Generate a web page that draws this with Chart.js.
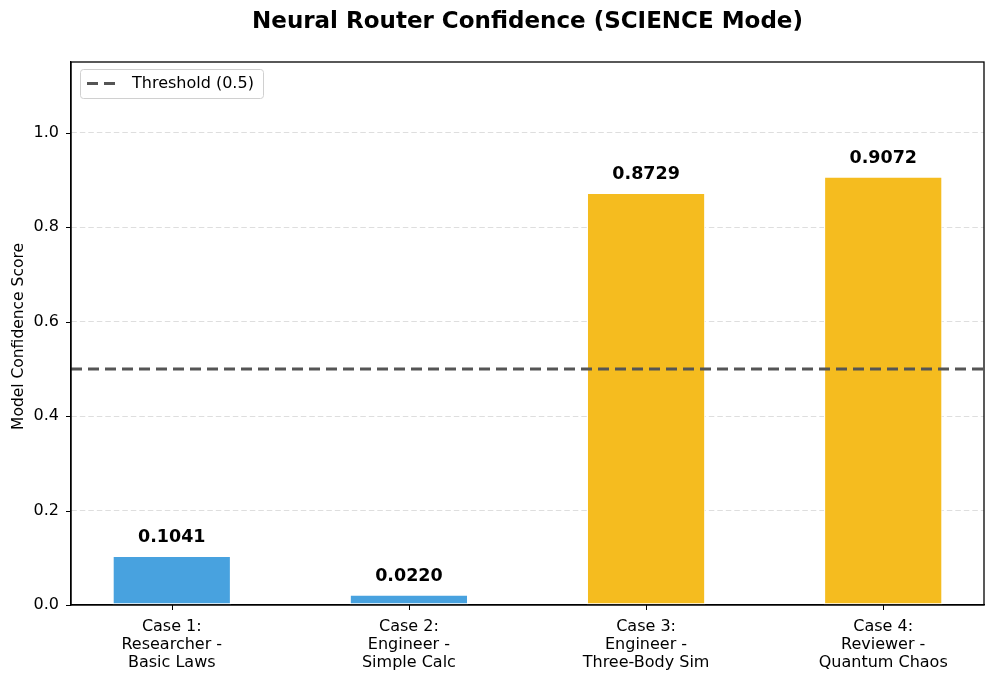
<!DOCTYPE html>
<html><head><meta charset="utf-8">
<script src="https://cdn.jsdelivr.net/npm/chart.js@4"></script>
<style>html,body{margin:0;padding:0;background:#fff}#wrap{width:996px;height:682px}</style>
</head><body><div id="wrap"><canvas id="c" width="996" height="682"></canvas></div>
<script>
const categories = [
  ["Case 1:", "Researcher -", "Basic Laws"],
  ["Case 2:", "Engineer -", "Simple Calc"],
  ["Case 3:", "Engineer -", "Three-Body Sim"],
  ["Case 4:", "Reviewer -", "Quantum Chaos"]
];
const confidence = [0.1041, 0.0220, 0.8729, 0.9072];
const threshold = 0.5;
const yTicks = [0.0, 0.2, 0.4, 0.6, 0.8, 1.0];
const titleText = "Neural Router Confidence (SCIENCE Mode)";
const yTitle = "Model Confidence Score";
const thresholdLabel = "Threshold (0.5)";

const FONT = "'DejaVu Sans', sans-serif";
const barColors = confidence.map(v => v >= threshold ? "#F5BC1F" : "#48A2DF");
const xMin = -0.425, xMax = categories.length - 1 + 0.425;

const overlay = {
  id: "overlay",
  afterDatasetsDraw(chart) {
    const ctx = chart.ctx, a = chart.chartArea;
    const xs = chart.scales.x, ys = chart.scales.y;
    ctx.save();
    // value labels
    ctx.font = "bold 17.5px " + FONT;
    ctx.fillStyle = "#000";
    ctx.textAlign = "center";
    ctx.textBaseline = "alphabetic";
    confidence.forEach((v, i) => {
      ctx.fillText(v.toFixed(4), xs.getPixelForValue(i), ys.getPixelForValue(v) - 14);
    });
    // tick marks
    ctx.strokeStyle = "#000";
    ctx.lineWidth = 1;
    ctx.beginPath();
    yTicks.forEach(v => {
      const y = Math.round(ys.getPixelForValue(v)) + 0.5;
      ctx.moveTo(a.left - 5, y); ctx.lineTo(a.left, y);
    });
    categories.forEach((c, i) => {
      const x = Math.round(xs.getPixelForValue(i)) + 0.5;
      ctx.moveTo(x, a.bottom); ctx.lineTo(x, a.bottom + 5);
    });
    ctx.stroke();
    // frame
    ctx.lineWidth = 1.3;
    ctx.strokeRect(a.left, a.top, a.right - a.left, a.bottom - a.top);
    // legend
    const lx = 80, ly = 69, lw = 183, lh = 29;
    ctx.fillStyle = "rgba(255,255,255,0.85)";
    ctx.strokeStyle = "#d0d0d0";
    ctx.lineWidth = 1;
    ctx.beginPath();
    ctx.roundRect(lx + 0.5, ly + 0.5, lw, lh, 3);
    ctx.fill(); ctx.stroke();
    ctx.strokeStyle = "#555555";
    ctx.lineWidth = 3;
    ctx.setLineDash([11, 6]);
    ctx.beginPath();
    ctx.moveTo(87, ly + 14.5); ctx.lineTo(117, ly + 14.5); ctx.stroke();
    ctx.setLineDash([]);
    ctx.fillStyle = "#000";
    ctx.font = "16px " + FONT;
    ctx.textAlign = "left";
    ctx.textBaseline = "middle";
    ctx.fillText(chart.data.datasets[1].label, 132, ly + 15);
    // title
    ctx.font = "bold 23px " + FONT;
    ctx.textAlign = "center";
    ctx.textBaseline = "middle";
    ctx.fillText(titleText, (a.left + a.right) / 2, 22);
    // y title
    ctx.font = "15.5px " + FONT;
    ctx.translate(19, (a.top + a.bottom) / 2 + 3);
    ctx.rotate(-Math.PI / 2);
    ctx.fillText(yTitle, 0, 0);
    ctx.restore();
  }
};

new Chart(document.getElementById("c"), {
  type: "bar",
  data: {
    datasets: [
      {
        type: "bar",
        label: "Confidence",
        data: confidence.map((v, i) => ({ x: i, y: v })),
        backgroundColor: barColors,
        borderColor: "#ffffff",
        borderWidth: 1.2,
        borderSkipped: false,
        barPercentage: 0.5,
        categoryPercentage: 1.0,
        order: 2
      },
      {
        type: "line",
        label: thresholdLabel,
        data: [{ x: xMin, y: threshold }, { x: xMax, y: threshold }],
        borderColor: "#555555",
        borderWidth: 3,
        borderDash: [11, 6],
        pointRadius: 0,
        fill: false,
        order: 1
      }
    ]
  },
  options: {
    responsive: false,
    animation: false,
    devicePixelRatio: 1,
    layout: { padding: { left: 0, right: 12, top: 62, bottom: 0 } },
    plugins: { legend: { display: false }, title: { display: false }, tooltip: { enabled: false } },
    scales: {
      x: {
        type: "linear",
        min: xMin,
        max: xMax,
        offset: false,
        afterBuildTicks(s) { s.ticks = categories.map((c, i) => ({ value: i })); },
        afterFit(s) { s.height = 77; },
        ticks: {
          autoSkip: false,
          maxRotation: 0,
          color: "#000",
          font: { family: FONT, size: 16, lineHeight: 1.12 },
          padding: 13,
          callback: (v) => categories[Math.round(v)]
        },
        grid: { display: false, offset: false, drawTicks: false },
        border: { display: true, color: "#000", width: 1.3 }
      },
      y: {
        min: 0,
        max: 1.15,
        afterBuildTicks(s) { s.ticks = yTicks.map(v => ({ value: v })); },
        afterFit(s) { s.width = 71; },
        ticks: {
          color: "#000",
          font: { family: FONT, size: 16 },
          padding: 12,
          callback: (v) => v.toFixed(1)
        },
        grid: {
          color: (c) => c.tick && c.tick.value === 0 ? "rgba(0,0,0,0)" : "#dedede",
          lineWidth: 1,
          drawTicks: false
        },
        border: { display: true, color: "#000", width: 1.3, dash: [5.5, 3] },
        title: { display: false }
      }
    }
  },
  plugins: [overlay]
});
</script>
</body></html>
